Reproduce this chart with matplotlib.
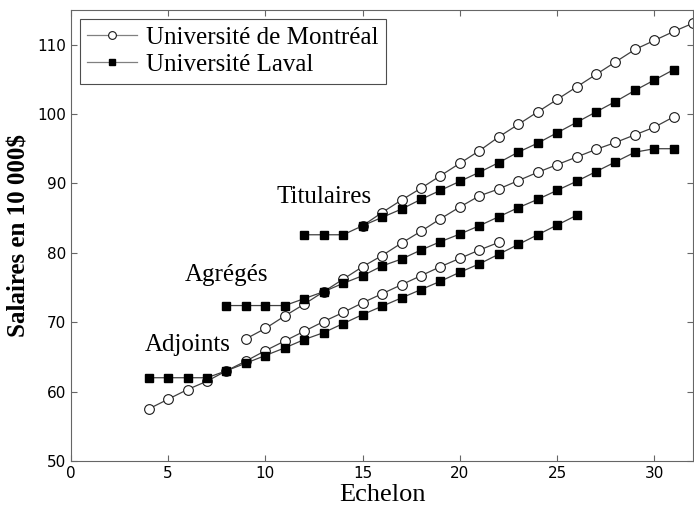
import matplotlib
matplotlib.use("Agg")
import matplotlib.pyplot as plt

# Echelons and salaries (in 10 000$)
mtl_adj_x = list(range(4, 23))
mtl_adj_y = [57.5, 58.9, 60.3, 61.5, 63.0, 64.4, 65.9, 67.3, 68.7, 70.1,
             71.4, 72.8, 74.1, 75.4, 76.7, 78.0, 79.2, 80.4, 81.5]

lav_adj_x = list(range(4, 27))
lav_adj_y = [62.0, 62.0, 62.0, 62.0, 63.0, 64.1, 65.2, 66.3, 67.5, 68.5,
             69.8, 71.1, 72.3, 73.5, 74.7, 75.9, 77.2, 78.4, 79.8, 81.2,
             82.6, 84.0, 85.4]

mtl_agr_x = list(range(9, 32))
mtl_agr_y = [67.6, 69.1, 70.9, 72.6, 74.4, 76.2, 78.0, 79.6, 81.4, 83.1,
             84.9, 86.6, 88.2, 89.2, 90.4, 91.6, 92.7, 93.8, 94.9, 95.9,
             97.0, 98.1, 99.6]

lav_agr_x = list(range(8, 32))
lav_agr_y = [72.4, 72.4, 72.4, 72.4, 73.4, 74.4, 75.6, 76.7, 78.1, 79.1,
             80.4, 81.6, 82.7, 83.9, 85.2, 86.5, 87.7, 89.0, 90.3, 91.7,
             93.1, 94.5, 95.0, 95.0]

mtl_tit_x = list(range(15, 33))
mtl_tit_y = [83.9, 85.8, 87.6, 89.3, 91.1, 92.9, 94.7, 96.7, 98.5, 100.3,
             102.1, 103.9, 105.7, 107.5, 109.3, 110.6, 111.9, 113.1]

lav_tit_x = list(range(12, 32))
lav_tit_y = [82.6, 82.6, 82.6, 83.9, 85.1, 86.3, 87.7, 89.0, 90.3, 91.6,
             93.0, 94.5, 95.8, 97.3, 98.8, 100.3, 101.8, 103.4, 104.9, 106.4]

series_labels = ["Université de Montréal", "Université Laval"]
group_labels = ["Adjoints", "Agrégés", "Titulaires"]
group_pos = [(6.0, 66.7), (8.0, 76.8), (13.0, 88.0)]

serif = "Liberation Serif"

fig = plt.figure(figsize=(6.94, 5.08), dpi=100)
ax = fig.add_axes([0.102, 0.0925, 0.897, 0.888])

mtl_style = dict(color="0.25", linewidth=0.9, marker="o", markersize=7,
                 markerfacecolor="white", markeredgecolor="0.1", markeredgewidth=0.8)
lav_style = dict(color="0.25", linewidth=0.9, marker="s", markersize=5.5,
                 markerfacecolor="black", markeredgecolor="black")

# Montréal (open circles)
h1, = ax.plot(mtl_adj_x, mtl_adj_y, **mtl_style)
ax.plot(mtl_agr_x, mtl_agr_y, **mtl_style)
ax.plot(mtl_tit_x, mtl_tit_y, **mtl_style)

# Laval (filled squares)
h2, = ax.plot(lav_adj_x, lav_adj_y, **lav_style)
ax.plot(lav_agr_x, lav_agr_y, **lav_style)
ax.plot(lav_tit_x, lav_tit_y, **lav_style)

for label, (gx, gy) in zip(group_labels, group_pos):
    ax.text(gx, gy, label, family=serif, fontsize=18, ha="center", va="center")

ax.set_xlim(0, 32)
ax.set_ylim(50, 115)
ax.set_xticks([0, 5, 10, 15, 20, 25, 30])
ax.set_yticks([50, 60, 70, 80, 90, 100, 110])
ax.tick_params(direction="in", top=True, right=True, length=4,
               labelsize=11, color="0.4")
for sp in ax.spines.values():
    sp.set_color("0.4")
    sp.set_linewidth(0.8)

ax.set_xlabel("Echelon", family=serif, fontsize=19, labelpad=2)
ax.set_ylabel("Salaires en 10 000$", family=serif, fontsize=18,
              fontweight="bold", labelpad=5)

leg = ax.legend([h1, h2], series_labels, loc="upper left",
                prop={"family": serif, "size": 18}, fancybox=False,
                framealpha=1, edgecolor="0.3", handlelength=2.0,
                borderaxespad=0.35, borderpad=0.3, labelspacing=0.2,
                handletextpad=0.35, markerscale=0.8)
leg.get_frame().set_linewidth(0.8)
for line in leg.get_lines():
    line.set_color("0.5")

fig.savefig("out.png", dpi=100)
